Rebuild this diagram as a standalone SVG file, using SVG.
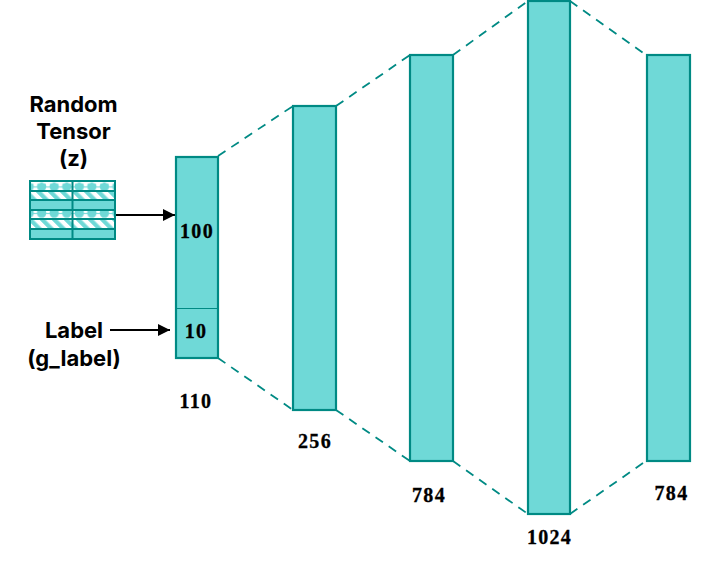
<svg xmlns="http://www.w3.org/2000/svg" width="728" height="563" viewBox="0 0 728 563">
<style>
.bar{fill:#6fd9d7;stroke:#008a84;stroke-width:2.2}
.dash{fill:none;stroke:#008a84;stroke-width:1.8;stroke-dasharray:9 7}
.grid{fill:none;stroke:#008a84;stroke-width:2}
.arrow{fill:none;stroke:#000;stroke-width:2;marker-end:url(#ah)}
.t{font-family:"Inter","Noto Sans",sans-serif;font-weight:700;font-size:22px;fill:#000;text-anchor:middle}
.n{font-family:"Liberation Serif","DejaVu Serif",serif;font-weight:700;font-size:20px;fill:#000;stroke:#000;stroke-width:.3;text-anchor:middle;letter-spacing:1.300px}
</style>
<defs>
<marker id="ah" markerUnits="userSpaceOnUse" markerWidth="12" markerHeight="12" refX="12" refY="6" orient="auto"><path d="M0 0L12 6L0 12Z" fill="#000"/></marker>
<pattern id="dots" width="12.55" height="26.500" patternUnits="userSpaceOnUse" x="35.400" y="182.500">
<rect width="12.55" height="26.500" fill="#fff"/>
<rect y="4" width="12.55" height="1" fill="#6fd9d7"/>
<path d="M6.300 -1L7.500 0.500L10.500 1.500L11 4.500L10 7L8 8.500L4.500 8.500L2.500 7L1.500 4.500L2 1.500L5 0.500Z" fill="#6fd9d7"/>
</pattern>
<pattern id="hatch" width="8.500" height="8.500" patternUnits="userSpaceOnUse" patternTransform="rotate(-45)">
<rect width="8.500" height="8.500" fill="#fff"/>
<rect width="4.250" height="8.500" fill="#6fd9d7"/>
</pattern>
</defs>
<g id="connectors">
<path class="dash" d="M218 156L293 106"/>
<path class="dash" d="M218 358L293 410"/>
<path class="dash" d="M336 106L410 55"/>
<path class="dash" d="M336 410L410 461"/>
<path class="dash" d="M453 55L528 1"/>
<path class="dash" d="M453 461L528 514"/>
<path class="dash" d="M570 1L646 55"/>
<path class="dash" d="M570 514L646 461"/>
<path class="arrow" d="M115 215H175"/>
<path class="arrow" d="M110 330H170"/>
</g>
<g id="tensor">
<rect x="30" y="181" width="85" height="10" fill="url(#dots)"/>
<rect x="30" y="191" width="85" height="9" fill="url(#hatch)"/>
<rect x="30" y="200" width="85" height="10" fill="#6fd9d7"/>
<rect x="30" y="210" width="85" height="9" fill="url(#dots)"/>
<rect x="30" y="219" width="85" height="10" fill="url(#hatch)"/>
<rect x="30" y="229" width="85" height="10" fill="#6fd9d7"/>
<path class="grid" d="M30 181H115V239H30ZM30 191H115M30 200H115M30 210H115M30 219H115M30 229H115M72.500 181V239"/>
</g>
<g id="label-random"><text class="t" x="73.500" y="112">Random</text><text class="t" x="73.500" y="139">Tensor</text><text class="t" x="73.500" y="166">(z)</text></g>
<g id="label-g"><text class="t" x="74" y="338">Label</text><text class="t" x="74" y="366">(g_label)</text></g>
<g id="layer-110">
<rect class="bar" x="176" y="157" width="42" height="201"/>
<path d="M176 308.500H218" stroke="#008a84" stroke-width="1" fill="none"/>
<text class="n" x="197" y="238">100</text>
<text class="n" x="196" y="338">10</text>
<text class="n" x="196" y="408">110</text>
</g>
<g id="layer-256"><rect class="bar" x="293" y="106" width="43" height="304"/><text class="n" x="315" y="448">256</text></g>
<g id="layer-784a"><rect class="bar" x="410" y="55" width="43" height="406"/><text class="n" x="429" y="502">784</text></g>
<g id="layer-1024"><rect class="bar" x="528" y="1" width="42" height="513"/><text class="n" x="549.500" y="544">1024</text></g>
<g id="layer-784b"><rect class="bar" x="647" y="55" width="43" height="406"/><text class="n" x="671.500" y="500">784</text></g>
</svg>
